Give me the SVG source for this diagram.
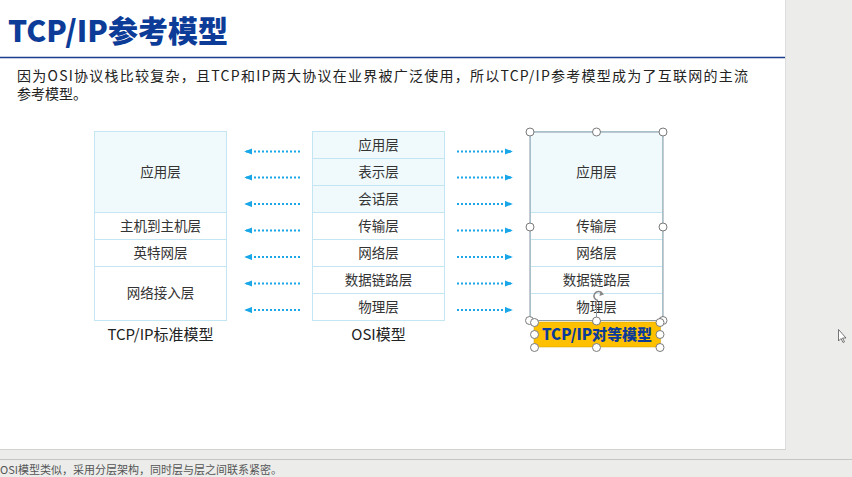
<svg xmlns="http://www.w3.org/2000/svg" width="852" height="477" viewBox="0 0 852 477">
<style>
.cjk{font-family:"Microsoft YaHei","Noto Sans CJK SC","Noto Sans",sans-serif}
.cell{stroke:#C3E6F2;stroke-width:1}
.app{fill:#F0F9FC}
.plain{fill:#FFFFFF}
.lbl{font-size:13.5px;fill:#333333;text-anchor:middle}
.cap{font-size:15px;fill:#222222;text-anchor:middle}
.arr{stroke:#1AA7E8;stroke-width:2;stroke-dasharray:2 2;fill:none}
.h{fill:#FFFFFF;stroke:#7A7A7A;stroke-width:1}
</style>
<defs>
<marker id="ah" viewBox="0 0 10 8" refX="9" refY="4" markerWidth="8" markerHeight="6.4" markerUnits="userSpaceOnUse" orient="auto">
<path d="M0,0 L10,4 L0,8 Z" fill="#1AA7E8"/>
</marker>
</defs>
<rect x="0" y="0" width="852" height="477" fill="#ECEDEB"/>
<rect x="0" y="0" width="785" height="449" fill="#FFFFFF"/>
<line x1="785.5" y1="0" x2="785.5" y2="450" stroke="#DCDDDB"/>
<line x1="0" y1="449.5" x2="786" y2="449.5" stroke="#D2D3D1"/>
<line x1="0" y1="459.5" x2="852" y2="459.5" stroke="#C6C7C5"/>
<text class="cjk" x="0" y="474" font-size="11" fill="#555555">OSI模型类似，采用分层架构，同时层与层之间联系紧密。</text>

<g id="title">
<text class="cjk" x="8" y="42" font-size="30" font-weight="900" fill="#0C3C98">TCP/IP参考模型</text>
<line x1="0" y1="57.5" x2="785" y2="57.5" stroke="#1A3F8F" stroke-width="1.5"/>
</g>
<g id="intro">
<text class="cjk" x="17" y="81" font-size="14" fill="#222222" textLength="731" lengthAdjust="spacing">因为OSI协议栈比较复杂，且TCP和IP两大协议在业界被广泛使用，所以TCP/IP参考模型成为了互联网的主流</text>
<text class="cjk" x="17" y="99" font-size="14" fill="#222222">参考模型。</text>
</g>

<g id="tcpip-standard" class="cjk">
<rect class="cell app" x="94.5" y="131.5" width="132" height="81"/>
<rect class="cell plain" x="94.5" y="212.5" width="132" height="27"/>
<rect class="cell plain" x="94.5" y="239.5" width="132" height="27"/>
<rect class="cell plain" x="94.5" y="266.5" width="132" height="54"/>
<text class="lbl" x="160.5" y="177">应用层</text>
<text class="lbl" x="160.5" y="231">主机到主机层</text>
<text class="lbl" x="160.5" y="258">英特网层</text>
<text class="lbl" x="160.5" y="298">网络接入层</text>
<text class="cap" x="160.5" y="340">TCP/IP标准模型</text>
</g>

<g id="osi" class="cjk">
<rect class="cell app" x="312.5" y="131.5" width="132" height="27"/>
<rect class="cell app" x="312.5" y="158.5" width="132" height="27"/>
<rect class="cell app" x="312.5" y="185.5" width="132" height="27"/>
<rect class="cell plain" x="312.5" y="212.5" width="132" height="27"/>
<rect class="cell plain" x="312.5" y="239.5" width="132" height="27"/>
<rect class="cell plain" x="312.5" y="266.5" width="132" height="27"/>
<rect class="cell plain" x="312.5" y="293.5" width="132" height="27"/>
<text class="lbl" x="378.5" y="150">应用层</text>
<text class="lbl" x="378.5" y="177">表示层</text>
<text class="lbl" x="378.5" y="204">会话层</text>
<text class="lbl" x="378.5" y="231">传输层</text>
<text class="lbl" x="378.5" y="258">网络层</text>
<text class="lbl" x="378.5" y="285">数据链路层</text>
<text class="lbl" x="378.5" y="312">物理层</text>
<text class="cap" x="378.5" y="340">OSI模型</text>
</g>

<g id="tcpip-peer" class="cjk">
<rect class="cell app" x="530.5" y="131.5" width="132" height="81"/>
<rect class="cell plain" x="530.5" y="212.5" width="132" height="27"/>
<rect class="cell plain" x="530.5" y="239.5" width="132" height="27"/>
<rect class="cell plain" x="530.5" y="266.5" width="132" height="27"/>
<rect class="cell plain" x="530.5" y="293.5" width="132" height="27"/>
<text class="lbl" x="596.5" y="177">应用层</text>
<text class="lbl" x="596.5" y="231">传输层</text>
<text class="lbl" x="596.5" y="258">网络层</text>
<text class="lbl" x="596.5" y="285">数据链路层</text>
<text class="lbl" x="596.5" y="312">物理层</text>
</g>

<g id="connectors">
<line class="arr" x1="300" y1="151.5" x2="245" y2="151.5" marker-end="url(#ah)"/>
<line class="arr" x1="300" y1="177.5" x2="245" y2="177.5" marker-end="url(#ah)"/>
<line class="arr" x1="300" y1="204" x2="245" y2="204" marker-end="url(#ah)"/>
<line class="arr" x1="300" y1="230.5" x2="245" y2="230.5" marker-end="url(#ah)"/>
<line class="arr" x1="300" y1="257" x2="245" y2="257" marker-end="url(#ah)"/>
<line class="arr" x1="300" y1="283.5" x2="245" y2="283.5" marker-end="url(#ah)"/>
<line class="arr" x1="300" y1="310" x2="245" y2="310" marker-end="url(#ah)"/>
<line class="arr" x1="457" y1="151.5" x2="512" y2="151.5" marker-end="url(#ah)"/>
<line class="arr" x1="457" y1="177.5" x2="512" y2="177.5" marker-end="url(#ah)"/>
<line class="arr" x1="457" y1="204" x2="512" y2="204" marker-end="url(#ah)"/>
<line class="arr" x1="457" y1="230.5" x2="512" y2="230.5" marker-end="url(#ah)"/>
<line class="arr" x1="457" y1="257" x2="512" y2="257" marker-end="url(#ah)"/>
<line class="arr" x1="457" y1="283.5" x2="512" y2="283.5" marker-end="url(#ah)"/>
<line class="arr" x1="457" y1="310" x2="512" y2="310" marker-end="url(#ah)"/>
</g>

<g id="selection">
<rect x="530" y="132" width="133" height="188.5" fill="none" stroke="#8C9AA3" stroke-width="1"/>
<path d="M602.5,294 A4.5,4.5 0 1 0 598,300.5" fill="none" stroke="#8A8A8A" stroke-width="1.5"/>
<path d="M600.5,291 L604,294.5 L599.5,296 Z" fill="#8A8A8A"/>
<line x1="596.5" y1="301" x2="596.5" y2="320" stroke="#8C9AA3"/>
<circle class="h" cx="530" cy="132" r="4"/>
<circle class="h" cx="596.5" cy="132" r="4"/>
<circle class="h" cx="663" cy="132" r="4"/>
<circle class="h" cx="530" cy="227" r="4"/>
<circle class="h" cx="663" cy="227" r="4"/>
<circle class="h" cx="529.5" cy="320.5" r="4"/>
<circle class="h" cx="663" cy="320.5" r="4"/>
</g>

<g id="peer-label">
<rect x="534" y="322" width="126.5" height="25" fill="#FFC000" stroke="#C9A000" stroke-width="0.5"/>
<text class="cjk" x="597" y="340" font-size="15" font-weight="900" fill="#0C3C98" text-anchor="middle">TCP/IP对等模型</text>
<circle class="h" cx="534.5" cy="322.5" r="4"/>
<circle class="h" cx="596.5" cy="321" r="4"/>
<circle class="h" cx="660" cy="322.5" r="4"/>
<circle class="h" cx="534.5" cy="334.5" r="4"/>
<circle class="h" cx="660" cy="334.5" r="4"/>
<circle class="h" cx="534.5" cy="347.5" r="4"/>
<circle class="h" cx="596.5" cy="347.5" r="4"/>
<circle class="h" cx="660" cy="347.5" r="4"/>
</g>

<g id="cursor">
<path d="M838.5,329.5 L838.5,341 L841,338.5 L843,342.5 L844.5,341.8 L842.5,338 L846,338 Z" fill="#FFFFFF" stroke="#555555" stroke-width="0.8"/>
</g>
</svg>
